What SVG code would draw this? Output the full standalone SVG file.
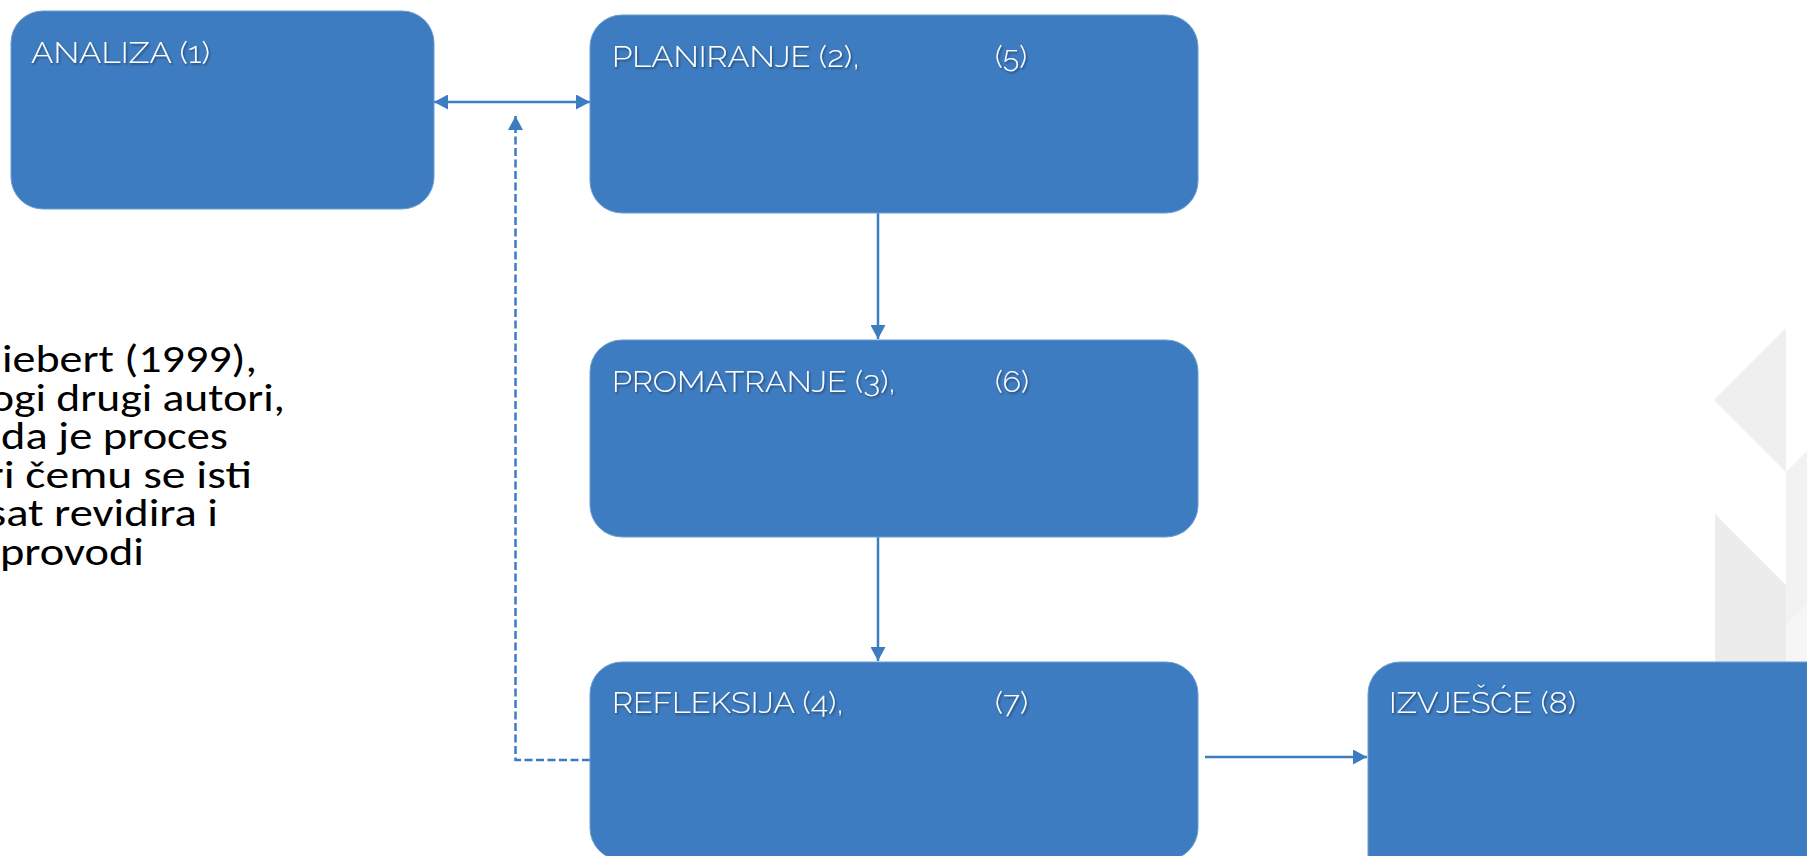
<svg xmlns="http://www.w3.org/2000/svg" width="1807" height="856" viewBox="0 0 1807 856">
<defs>
<style>
.box{fill:#3e7cc1;stroke:#6b9bd2;stroke-width:1}
.lbl{font-family:"Raleway","Lato","Open Sans",sans-serif;font-weight:300;font-size:30px;fill:#ffffff;filter:url(#sh)}
.para{font-family:"Carlito","Calibri","Lato","Open Sans",sans-serif;font-size:46px;fill:#000000}
.con{fill:none;stroke:#3e7cc1;stroke-width:2.5}
.dash{stroke-dasharray:8 3.5}
</style>
<filter id="sh" x="-10%" y="-30%" width="130%" height="180%">
<feDropShadow dx="1.2" dy="1.5" stdDeviation="1" flood-color="#000000" flood-opacity="0.45"/>
</filter>
<marker id="arr" markerUnits="userSpaceOnUse" markerWidth="14" markerHeight="15" refX="14" refY="7.5" orient="auto-start-reverse" viewBox="0 0 14 15">
<path d="M0,0 L14,7.5 L0,15 z" fill="#3e7cc1"/>
</marker>
</defs>
<rect x="0" y="0" width="1807" height="856" fill="#ffffff"/>
<g id="background">
<polygon points="1786,328 1714,400 1786,472" fill="#efefef"/>
<polygon points="1715,514 1786,585 1786,663 1715,663" fill="#ececec"/>
<polygon points="1786,472 1807,451 1807,663 1786,663" fill="#f2f2f2"/>
<polygon points="1786,625 1807,604 1807,663 1786,663" fill="#f6f6f6"/>
</g>
<g id="paragraph" class="para" text-anchor="end">
<text transform="translate(0,372) scale(1,0.84)" x="257" y="0" textLength="255" lengthAdjust="spacingAndGlyphs">iebert (1999),</text>
<text transform="translate(0,410.5) scale(1,0.84)" x="285" y="0" textLength="295" lengthAdjust="spacingAndGlyphs">ogi drugi autori,</text>
<text transform="translate(0,449) scale(1,0.84)" x="228" y="0" textLength="227" lengthAdjust="spacingAndGlyphs">da je proces</text>
<text transform="translate(0,487.5) scale(1,0.84)" x="252" y="0" textLength="265" lengthAdjust="spacingAndGlyphs">ri čemu se isti</text>
<text transform="translate(0,526) scale(1,0.84)" x="218" y="0" textLength="230" lengthAdjust="spacingAndGlyphs">sat revidira i</text>
<text transform="translate(0,564.5) scale(1,0.84)" x="144" y="0" textLength="144" lengthAdjust="spacingAndGlyphs">provodi</text>
</g>
<g id="connectors">
<line class="con" x1="434" y1="102" x2="590" y2="102" marker-start="url(#arr)" marker-end="url(#arr)"/>
<polyline class="con dash" points="590,760 515.5,760 515.5,116" marker-end="url(#arr)"/>
<line class="con" x1="878" y1="213" x2="878" y2="339" marker-end="url(#arr)"/>
<line class="con" x1="878" y1="537" x2="878" y2="661" marker-end="url(#arr)"/>
<line class="con" x1="1205" y1="757" x2="1367" y2="757" marker-end="url(#arr)"/>
</g>
<g id="node-analiza">
<rect class="box" x="11" y="11" width="423" height="198" rx="32" ry="32"/>
<text class="lbl" x="31" y="63" textLength="179" lengthAdjust="spacingAndGlyphs">ANALIZA (1)</text>
</g>
<g id="node-planiranje">
<rect class="box" x="590" y="15" width="608" height="198" rx="32" ry="32"/>
<text class="lbl" x="612" y="67" textLength="248" lengthAdjust="spacingAndGlyphs">PLANIRANJE (2),</text>
<text class="lbl" x="995" y="67" textLength="32" lengthAdjust="spacingAndGlyphs">(5)</text>
</g>
<g id="node-promatranje">
<rect class="box" x="590" y="340" width="608" height="197" rx="32" ry="32"/>
<text class="lbl" x="612" y="392" textLength="284" lengthAdjust="spacingAndGlyphs">PROMATRANJE (3),</text>
<text class="lbl" x="995" y="392" textLength="34" lengthAdjust="spacingAndGlyphs">(6)</text>
</g>
<g id="node-refleksija">
<rect class="box" x="590" y="662" width="608" height="198" rx="32" ry="32"/>
<text class="lbl" x="612" y="713" textLength="232" lengthAdjust="spacingAndGlyphs">REFLEKSIJA (4),</text>
<text class="lbl" x="995" y="713" textLength="33" lengthAdjust="spacingAndGlyphs">(7)</text>
</g>
<g id="node-izvjesce">
<rect class="box" x="1368" y="662" width="500" height="260" rx="32" ry="32"/>
<text class="lbl" x="1389" y="713" textLength="187" lengthAdjust="spacingAndGlyphs">IZVJEŠĆE (8)</text>
</g>
</svg>
